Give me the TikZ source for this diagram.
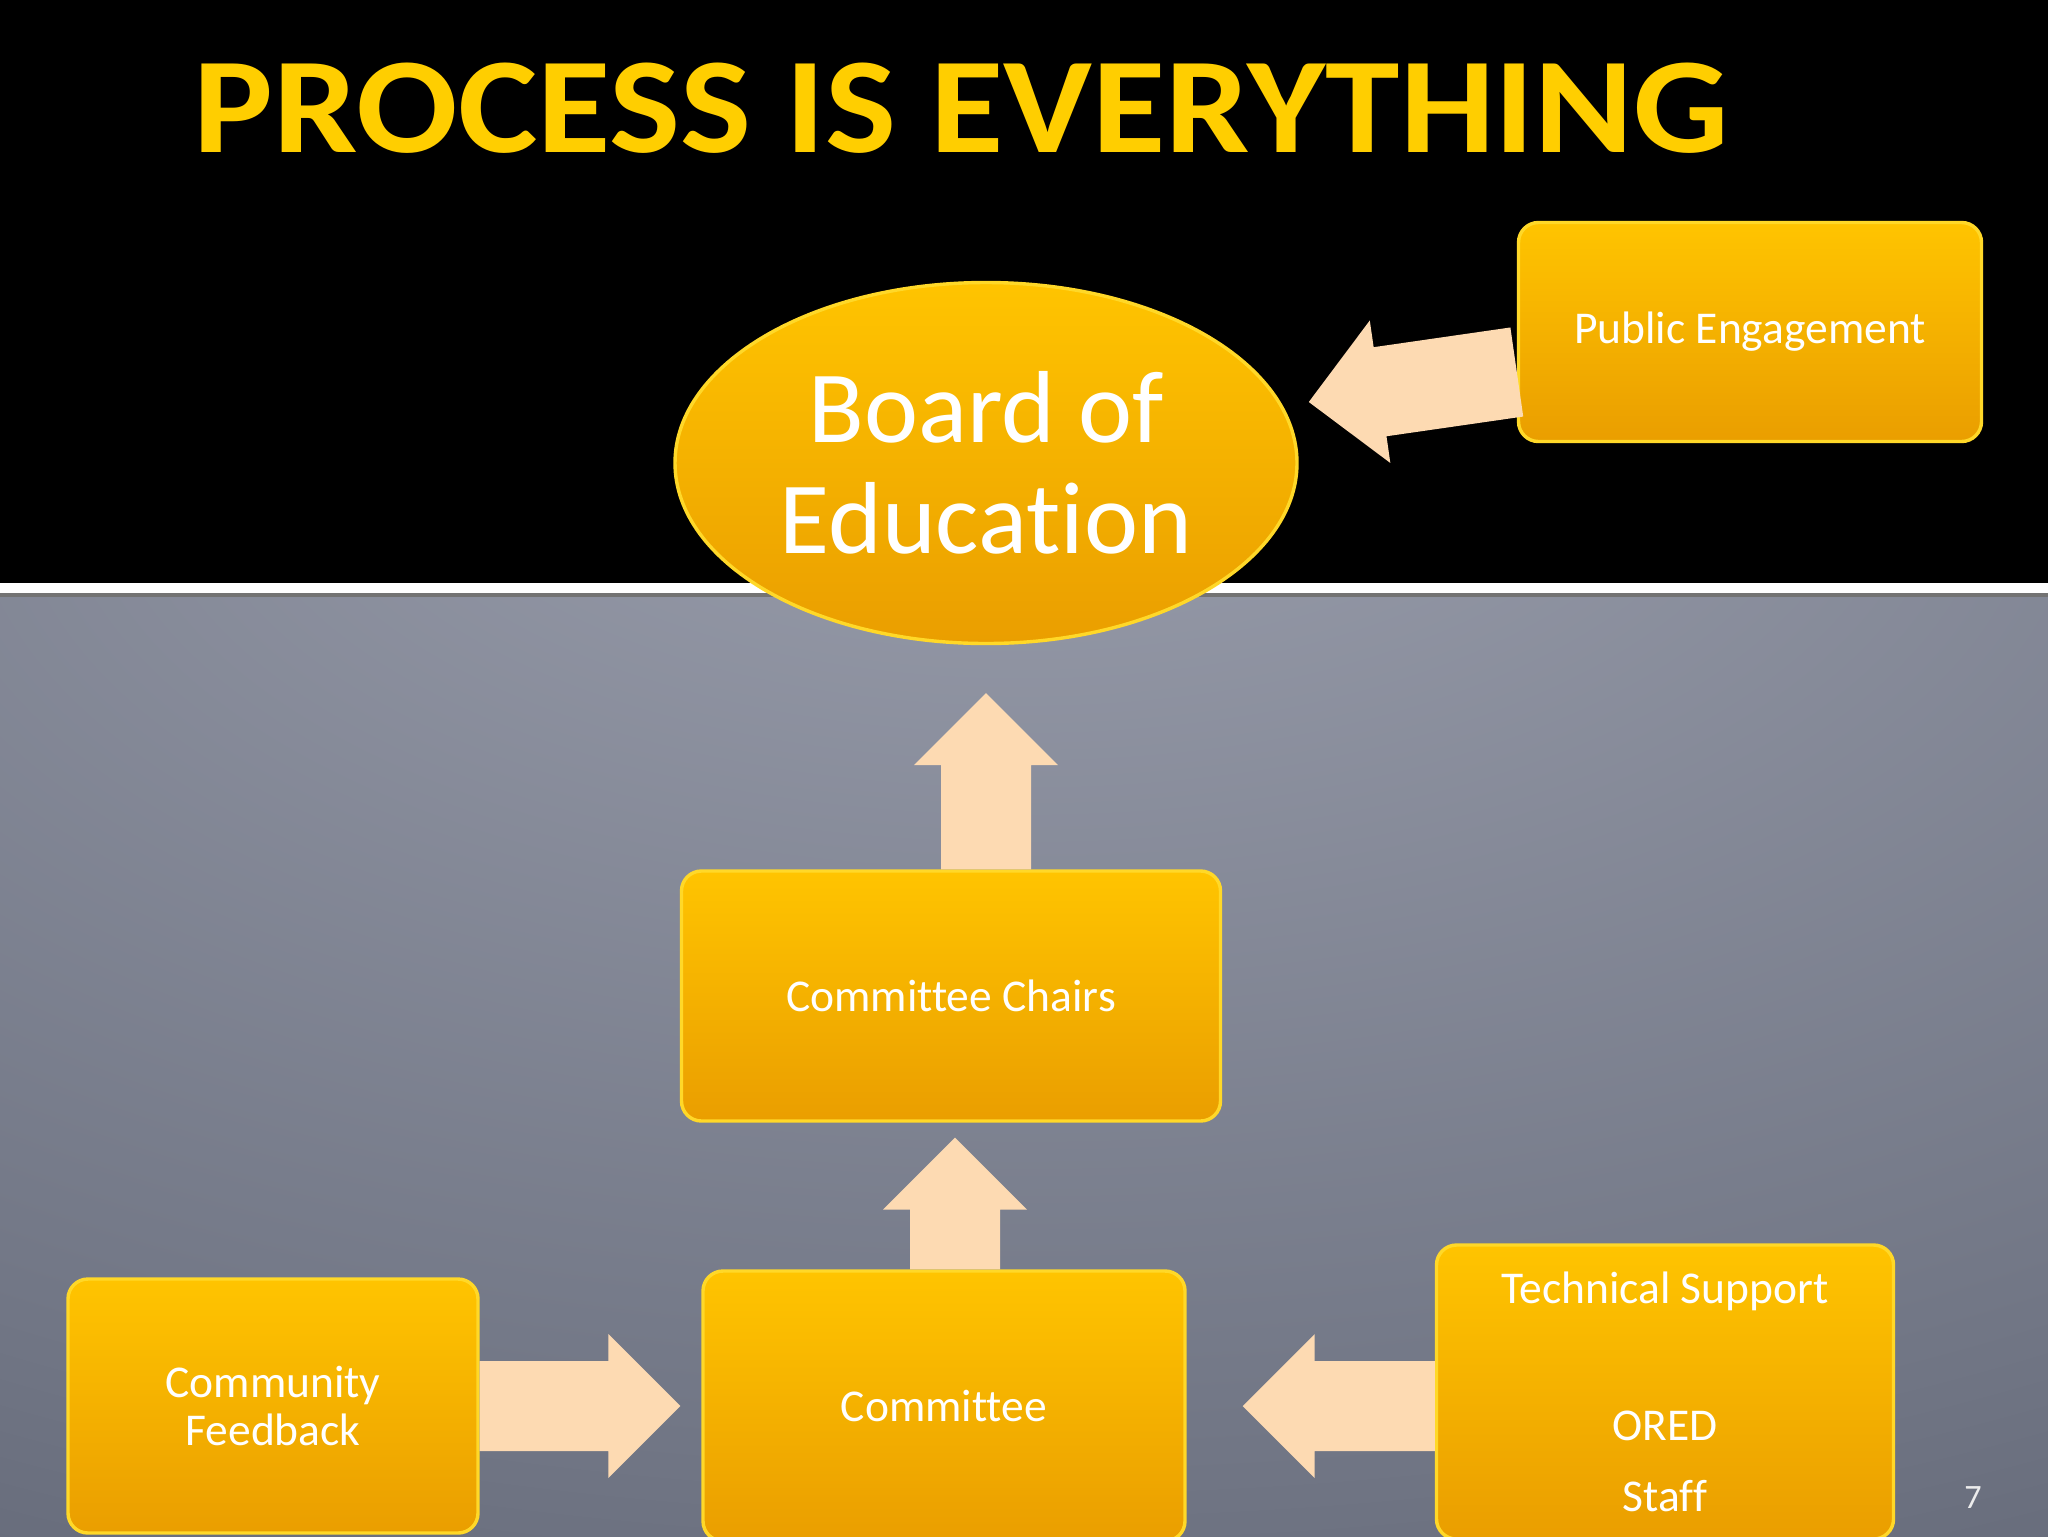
\documentclass[tikz,border=0pt]{standalone}
\usepackage{fontspec}
\setmainfont{Carlito}[Ligatures=NoCommon]
\newfontfamily\headfont{Carlito}[FakeStretch=1.1, Ligatures=NoCommon]
\usetikzlibrary{calc,shapes.geometric}
\def\px{0.3516pt}
\definecolor{gold}{RGB}{255,196,0}
\definecolor{amber}{RGB}{234,158,0}
\definecolor{rim}{RGB}{255,216,40}
\definecolor{peach}{RGB}{253,218,178}
\definecolor{titleyellow}{RGB}{255,206,0}
\definecolor{bglight}{RGB}{156,160,174}
\definecolor{bgmid}{RGB}{112,117,132}
\definecolor{bgdark}{RGB}{78,83,98}
\definecolor{bgdeep}{RGB}{60,65,80}
\pgfdeclareradialshading{slatebg}{\pgfpoint{0bp}{40bp}}{color(0bp)=(bglight); color(45bp)=(bgmid); color(75bp)=(bgdark); color(105bp)=(bgdeep)}
\tikzstyle{every node}=[text=white, inner sep=0pt]
\tikzstyle{panel}=[rectangle, rounded corners=7pt, top color=gold, bottom color=amber, draw=rim, line width=1.2pt, align=center, font=\fontsize{16}{17}\selectfont]
\tikzstyle{flow}=[fill=peach]
\newcommand{\fatarrow}[2]{
	\coordinate (hb) at ($(#2)!72*\px!(#1)$);
	\fill[flow] ($(#1)!45*\px!90:(#2)$) -- ($(hb)!45*\px!90:(#2)$) -- ($(hb)!72*\px!90:(#2)$) -- (#2)
		-- ($(hb)!72*\px!-90:(#2)$) -- ($(hb)!45*\px!-90:(#2)$) -- ($(#1)!45*\px!-90:(#2)$) -- cycle;
}

\begin{document}
\begin{tikzpicture}[x=\px, y=-\px]
	\useasboundingbox (0,0) rectangle (2048,1536);
	\clip (0,0) rectangle (2048,1536);
	\fill[black] (0,0) rectangle (2048,583);
	\shade[shading=slatebg] (0,593) rectangle (2048,1536);
	\fill[white] (0,583) rectangle (2048,593);
	\fill[black!55] (0,593) rectangle (2048,597);

	\node[anchor=base west, text=titleyellow, font=\fontsize{48}{48}\headfont\bfseries] (title) at (193,152) {PROCESS IS EVERYTHING};

	\node[ellipse, minimum width=622*\px, minimum height=361*\px, top color=gold, bottom color=amber, draw=rim, line width=1.2pt, align=center, font=\fontsize{36}{39}\selectfont] (boe) at (986,463) {Board of\\Education};
	\node[panel, minimum width=463*\px, minimum height=219*\px] (pe) at (1750,332) {Public Engagement};
	\node[panel, minimum width=539*\px, minimum height=250*\px] (chairs) at (951,996) {Committee Chairs};
	\node[panel, minimum width=482*\px, minimum height=270*\px] (comm) at (944,1406) {Committee};
	\node[panel, minimum width=410*\px, minimum height=254*\px] (cf) at (273,1406) {Community\\Feedback};
	\node[panel, minimum width=457*\px, minimum height=294*\px] (ts) at (1665,1392) {Technical Support\\[31pt]ORED\\[8pt]Staff};
	\node[font=\fontsize{12}{12}\selectfont, text=white!85!gray] (page) at (1973,1498) {7};

	\coordinate (pefoot) at ($(pe.west)+(0,40)$);
	\coordinate (petip) at ($(pefoot)+(-208,30)$);
	\coordinate (boefoot) at (boe.center |- chairs.north);
	\coordinate (boetip) at ($(boe.south)+(0,48)$);
	\coordinate (commfoot) at ($(comm.north)+(11,0)$);
	\coordinate (chairstip) at ($(commfoot |- chairs.south)+(0,15)$);
	\coordinate (cftip) at ($(comm.west)+(-21,0)$);
	\coordinate (tstip) at ($(comm.east)+(56,0)$);

	\fatarrow{pefoot}{petip}
	\fatarrow{boefoot}{boetip}
	\fatarrow{commfoot}{chairstip}
	\fatarrow{cf.east |- comm}{cftip}
	\fatarrow{ts.west |- comm}{tstip}
\end{tikzpicture}
\end{document}
